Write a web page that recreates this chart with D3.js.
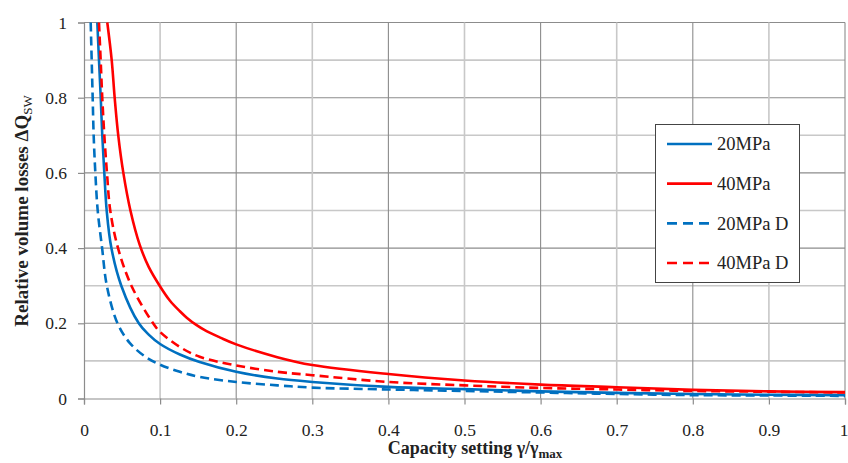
<!DOCTYPE html>
<html><head><meta charset="utf-8">
<script src="https://cdn.jsdelivr.net/npm/d3@7"></script>
<style>
html,body{margin:0;padding:0;background:#fff;}
svg{display:block;}
text{font-family:"Liberation Serif","Times New Roman",serif;fill:#222;}
</style></head>
<body><svg id="c" width="848" height="463"></svg>
<script>
// ---- data ----
const seriesNames = ["20MPa","40MPa","20MPa D","40MPa D"];
const x20  = [0.0175,0.0197,0.022,0.024,0.0267,0.0298,0.036,0.049,0.072,0.085,0.1,0.126,0.152,0.2,0.254,0.3,0.4,0.5,0.6,0.7,0.8,0.9,1.0];
const y20  = [1.0,0.9,0.8,0.7,0.6,0.5,0.4,0.3,0.2,0.17,0.145,0.117,0.097,0.071,0.053,0.044,0.031,0.025,0.019,0.015,0.012,0.010,0.009];
const x40  = [0.0306,0.0364,0.0403,0.045,0.0517,0.061,0.073,0.085,0.1,0.113,0.126,0.135,0.148,0.161,0.179,0.2,0.254,0.3,0.4,0.5,0.6,0.7,0.8,0.9,1.0];
const y40  = [1.0,0.9,0.8,0.7,0.6,0.5,0.41,0.35,0.298,0.26,0.232,0.215,0.195,0.179,0.162,0.144,0.11,0.089,0.065,0.048,0.037,0.030,0.023,0.019,0.017];
const x20D = [0.0088,0.0101,0.0114,0.0127,0.0149,0.018,0.0238,0.030,0.044,0.06,0.08,0.1,0.126,0.152,0.2,0.254,0.3,0.4,0.5,0.6,0.7,0.8,0.9,1.0];
const y20D = [1.0,0.9,0.8,0.7,0.6,0.5,0.4,0.3,0.2,0.148,0.112,0.09,0.071,0.0575,0.044,0.035,0.029,0.024,0.020,0.016,0.012,0.009,0.008,0.007];
const x40D = [0.0197,0.0219,0.024,0.0267,0.0302,0.0345,0.0447,0.0623,0.0908,0.1,0.126,0.152,0.2,0.254,0.3,0.4,0.5,0.6,0.7,0.8,0.9,1.0];
const y40D = [1.0,0.9,0.8,0.7,0.6,0.5,0.4,0.3,0.2,0.177,0.137,0.111,0.088,0.071,0.062,0.044,0.035,0.028,0.024,0.020,0.018,0.016];
const xTicks = [0,0.1,0.2,0.3,0.4,0.5,0.6,0.7,0.8,0.9,1];
const yTicks = [0,0.2,0.4,0.6,0.8,1];
const yMinor = [0.1,0.3,0.5,0.7,0.9];

// ---- chart ----
const svg = d3.select("#c");
const L=84, R=845, T=22.5, B=398.5;
const x = d3.scaleLinear().domain([0,1]).range([L,R]);
const y = d3.scaleLinear().domain([0,1]).range([B,T]);
const fmt = d => String(d);

const series = [
  {name:seriesNames[0], xs:x20,  ys:y20,  color:"#0070C0", dash:null},
  {name:seriesNames[1], xs:x40,  ys:y40,  color:"#FF0000", dash:null},
  {name:seriesNames[2], xs:x20D, ys:y20D, color:"#0070C0", dash:"9,5"},
  {name:seriesNames[3], xs:x40D, ys:y40D, color:"#FF0000", dash:"9,5"}
];

// gridlines
const g = svg.append("g");
g.selectAll(".hm").data(yMinor).join("line")
  .attr("x1",L).attr("x2",R).attr("y1",d=>y(d)).attr("y2",d=>y(d))
  .attr("stroke","#c8c8c8").attr("stroke-width",1.6);
g.selectAll(".hM").data(yTicks.filter(d=>d>0)).join("line")
  .attr("x1",L).attr("x2",R).attr("y1",d=>y(d)).attr("y2",d=>y(d))
  .attr("stroke","#8c8c8c").attr("stroke-width",1.1);
g.selectAll(".v").data(xTicks.filter(d=>d>0)).join("line")
  .attr("y1",T).attr("y2",B).attr("x1",d=>x(d)).attr("x2",d=>x(d))
  .attr("stroke",(d,i)=> (i%2===0 ? "#c8c8c8" : "#8c8c8c"))
  .attr("stroke-width",(d,i)=> (i%2===0 ? 1.6 : 1.1));

// axes
const ax = svg.append("g").attr("transform",`translate(0,${B})`)
  .call(d3.axisBottom(x).tickValues(xTicks).tickFormat(fmt).tickSize(6).tickPadding(20));
const ay = svg.append("g").attr("transform",`translate(${L},0)`)
  .call(d3.axisLeft(y).tickValues(yTicks).tickFormat(fmt).tickSize(6).tickPadding(11));
[ax,ay].forEach(a=>{
  a.select(".domain").attr("stroke","#8c8c8c").attr("stroke-width",1.2);
  a.selectAll(".tick line").attr("stroke","#8c8c8c").attr("stroke-width",1.2);
  a.selectAll(".tick text").attr("font-family","Liberation Serif, serif").attr("font-size",17.5).attr("fill","#222");
});
ax.selectAll(".tick text").attr("dy","0.35em").attr("y",31);
ax.selectAll(".tick text").filter(d=>d===1).attr("text-anchor","end").attr("dx",3);

// lines
svg.append("clipPath").attr("id","pc").append("rect")
  .attr("x",L).attr("y",T-2).attr("width",R-L+2).attr("height",B-T+2);
const line = d3.line().x(d=>x(d[0])).y(d=>y(d[1])).curve(d3.curveCatmullRom.alpha(0.5));
svg.append("g").attr("clip-path","url(#pc)").selectAll("path").data(series).join("path")
  .attr("d",s=>line(s.xs.map((v,i)=>[v,s.ys[i]])))
  .attr("fill","none").attr("stroke",s=>s.color).attr("stroke-width",2.6)
  .attr("stroke-dasharray",s=>s.dash);

// legend
const lg = svg.append("g");
lg.append("rect").attr("x",655.5).attr("y",124.5).attr("width",144).attr("height",158)
  .attr("fill","#fff").attr("stroke","#444").attr("stroke-width",1);
const ly = d3.scalePoint().domain(seriesNames).range([144,263]);
const it = lg.selectAll(".it").data(series).join("g");
it.append("line").attr("x1",667).attr("x2",712).attr("y1",s=>ly(s.name)).attr("y2",s=>ly(s.name))
  .attr("stroke",s=>s.color).attr("stroke-width",2.6).attr("stroke-dasharray",s=>s.dash?"10,6":null);
it.append("text").attr("x",717).attr("y",s=>ly(s.name)).attr("dy","0.35em")
  .attr("font-size",18.5).text(s=>s.name);

// axis titles
const xt = svg.append("text").attr("x",475).attr("y",454).attr("text-anchor","middle")
  .attr("font-size",18).attr("font-weight","bold");
xt.append("tspan").text("Capacity setting γ/γ");
xt.append("tspan").attr("dy",4).attr("font-size",13).text("max");

const yt = svg.append("text").attr("transform","translate(28,211) rotate(-90)")
  .attr("text-anchor","middle").attr("font-size",19).attr("font-weight","bold");
yt.append("tspan").text("Relative volume losses  ΔQ");
yt.append("tspan").attr("dy",4).attr("font-size",13).attr("font-weight","normal").text("SW");
</script>
</body></html>
